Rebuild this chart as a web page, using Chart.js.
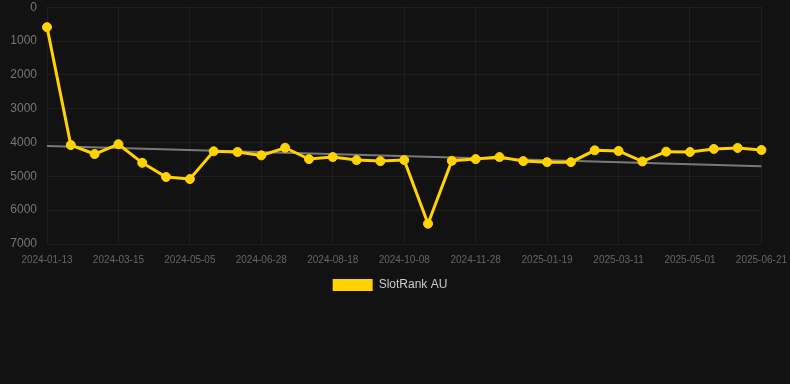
<!DOCTYPE html>
<html>
<head>
<meta charset="utf-8">
<script src="https://cdn.jsdelivr.net/npm/chart.js@4/dist/chart.umd.min.js"></script>
<style>
  html, body { margin: 0; padding: 0; background: #121212; }
  #wrap { position: relative; width: 790px; height: 301px; }
</style>
</head>
<body>
<div id="wrap"><canvas id="chart"></canvas></div>
<script>
// rank history, lower = better, so the y axis runs upside down
const dates = [
  '2024-01-13', '2024-02-03', '2024-02-24', '2024-03-15', '2024-04-01', '2024-04-18',
  '2024-05-05', '2024-05-23', '2024-06-10', '2024-06-28', '2024-07-15', '2024-08-01',
  '2024-08-18', '2024-09-04', '2024-09-21', '2024-10-08', '2024-10-25', '2024-11-11',
  '2024-11-28', '2024-12-15', '2025-01-02', '2025-01-19', '2025-02-05', '2025-02-22',
  '2025-03-11', '2025-03-28', '2025-04-14', '2025-05-01', '2025-05-18', '2025-06-04',
  '2025-06-21'
];
const rankAU = [
  590, 4075, 4340, 4050, 4600, 5020,
  5080, 4260, 4280, 4380, 4155, 4490,
  4430, 4520, 4550, 4520, 6400, 4540,
  4490, 4430, 4550, 4580, 4580, 4230,
  4250, 4560, 4270, 4280, 4190, 4160,
  4220
];
// trend line, only the two ends
const trendStart = 4105;
const trendEnd = 4700;
const yTicks = [0, 7000, 1000]; // min, max, step

const trend = dates.map((d, i) => i === 0 ? trendStart : (i === dates.length - 1 ? trendEnd : null));

const GOLD = '#FFD200';
const GRID = 'rgba(255,255,255,0.05)';

const defaultLabels = Chart.defaults.plugins.legend.labels.generateLabels;

// legend sits a few px left of centre in the original
const nudgeLegend = {
  id: 'nudgeLegend',
  afterLayout: c => { c.legend.left -= 5; c.legend.right -= 5; },
};

new Chart(document.getElementById('chart'), {
  type: 'line',
  data: {
    labels: dates,
    datasets: [
      {
        label: 'SlotRank AU',
        data: rankAU,
        borderColor: GOLD,
        backgroundColor: GOLD,
        borderWidth: 3,
        pointRadius: 4.5,
        pointBorderWidth: 1,
        pointHoverRadius: 6,
        tension: 0,
      },
      {
        label: 'trend',
        data: trend,
        borderColor: 'rgba(140,140,140,0.85)',
        borderWidth: 2,
        pointRadius: 0,
        spanGaps: true,
      },
    ]
  },
  options: {
    responsive: true, maintainAspectRatio: false,
    animation: false,
    scales: {
      x: {
        grid: { color: GRID, tickColor: 'transparent', tickLength: 7 },
        border: { display: false },
        ticks: {
          color: '#666', font: { size: 10 }, padding: 3,
          autoSkip: false, maxRotation: 0,
          callback: (v, i) => i % 3 === 0 ? dates[i] : null,
        },
      },
      y: {
        reverse: true,
        min: yTicks[0], max: yTicks[1],
        grid: { color: GRID, tickColor: 'transparent', tickLength: 10 },
        border: { display: false },
        ticks: {
          color: '#777', font: { size: 12 }, stepSize: yTicks[2], padding: 0,
          callback: v => String(v),
        },
        afterFit: s => { s.width = 47; },
      }
    },
    plugins: {
      legend: {
        position: 'bottom',
        labels: {
          color: '#ccc', font: { size: 12 }, boxWidth: 40,
          filter: item => item.text !== 'trend',
          generateLabels: chart => defaultLabels(chart).map(l => ({ ...l, lineWidth: 0 })),
        },
      },
      tooltip: { enabled: true },
    }
  },
  plugins: [nudgeLegend],
});
</script>
</body>
</html>
